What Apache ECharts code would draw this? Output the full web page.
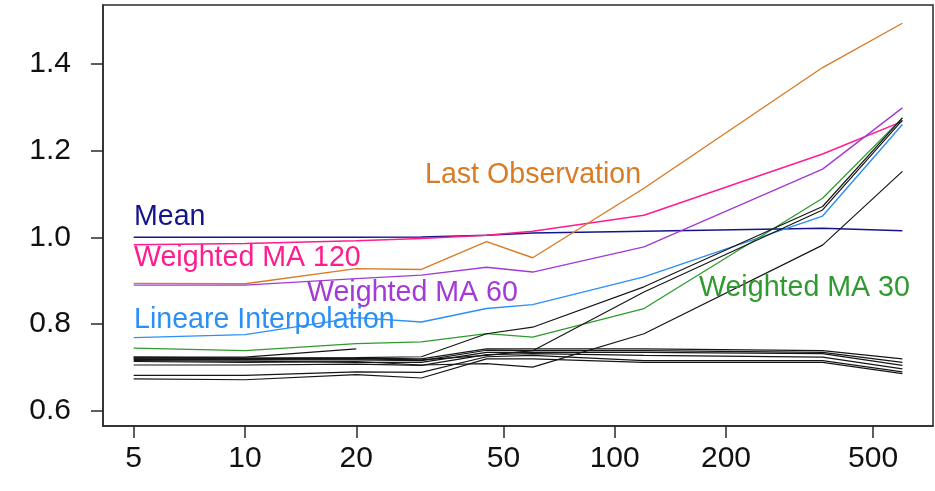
<!DOCTYPE html>
<html>
<head>
<meta charset="utf-8">
<script src="https://cdn.jsdelivr.net/npm/echarts@6/dist/echarts.min.js"></script>
<style>
  html, body { margin: 0; padding: 0; background: #fff; }
  #chart { width: 935px; height: 491px; }
</style>
</head>
<body>
<div id="chart"></div>
<script>
// horizon (days) on a log axis
const horizons = [5, 10, 20, 30, 45, 60, 120, 365, 600];
const xTicks = [5, 10, 20, 50, 100, 200, 500];
const yTicks = [0.6, 0.8, 1.0, 1.2, 1.4];

// named methods
const mean      = [1.000, 1.000, 1.000, 1.001, 1.005, 1.010, 1.014, 1.021, 1.015];
const wma120    = [0.983, 0.986, 0.992, 0.997, 1.005, 1.014, 1.051, 1.192, 1.267];
const lastObs   = [0.894, 0.893, 0.928, 0.926, 0.990, 0.953, 1.113, 1.391, 1.493];
const wma60     = [0.890, 0.890, 0.905, 0.913, 0.931, 0.920, 0.978, 1.157, 1.298];
const linInterp = [0.769, 0.776, 0.815, 0.805, 0.836, 0.845, 0.909, 1.049, 1.260];
const wma30     = [0.745, 0.739, 0.755, 0.759, 0.778, 0.770, 0.836, 1.090, 1.275];

// unnamed (black) methods
const blackA = [0.724, 0.722, 0.723, 0.725, 0.778, 0.793, 0.886, 1.071, 1.275];
const blackB = [0.720, 0.719, 0.720, 0.718, 0.728, 0.739, 0.874, 1.063, 1.270];
const blackC = [0.714, 0.712, 0.714, 0.706, 0.709, 0.701, 0.778, 0.982, 1.152];
const flat1  = [0.722, 0.721, 0.722, 0.720, 0.743, 0.743, 0.743, 0.739, 0.720];
const flat2  = [0.719, 0.718, 0.718, 0.716, 0.740, 0.739, 0.739, 0.735, 0.712];
const flat3  = [0.716, 0.715, 0.712, 0.712, 0.735, 0.735, 0.735, 0.732, 0.705];
const flat4  = [0.706, 0.706, 0.708, 0.705, 0.730, 0.732, 0.728, 0.724, 0.697];
const flat5  = [0.682, 0.682, 0.690, 0.689, 0.725, 0.728, 0.716, 0.716, 0.690];
const flat6  = [0.674, 0.672, 0.684, 0.676, 0.720, 0.720, 0.712, 0.712, 0.686];
const shortLine = [0.724, 0.724, 0.743];

const FONT = '"Liberation Sans", Arial, Helvetica, sans-serif';

function pairs(vals) {
    return vals.map((v, i) => [horizons[i], v]);
}

function line(name, vals, color, width) {
    return {
        name: name,
        type: 'line',
        data: pairs(vals),
        showSymbol: false,
        silent: true,
        animation: false,
        lineStyle: { color: color, width: width },
        itemStyle: { color: color }
    };
}

// annotations next to the curves (pixel positions of the text)
function label(text, x, y, color) {
    return {
        type: 'text',
        x: x,
        y: y,
        z: 100,
        style: {
            text: text,
            fill: color,
            font: '28.6px ' + FONT,
            textVerticalAlign: 'middle'
        }
    };
}

const chart = echarts.init(document.getElementById('chart'));

const blackCol = '#161616';

chart.setOption({
    animation: false,
    grid: {
        left: 103, right: 2, top: 5, bottom: 65,
        show: true,
        borderColor: '#2a2a2a',
        borderWidth: 1.5,
        backgroundColor: 'transparent'
    },
    xAxis: {
        type: 'log',
        logBase: 10,
        min: 4.13,
        max: 726,
        axisLine: { show: true, onZero: false, lineStyle: { color: '#2a2a2a', width: 1.5 } },
        axisTick: { show: true, length: 12, customValues: xTicks, lineStyle: { color: '#2a2a2a', width: 1.5 } },
        axisLabel: {
            customValues: xTicks,
            fontSize: 30, fontFamily: FONT, color: '#111', margin: 18,
            formatter: v => String(Math.round(v))
        },
        splitLine: { show: false },
        minorTick: { show: false }
    },
    yAxis: {
        type: 'value',
        min: 0.5655,
        max: 1.535,
        axisLine: { show: true, lineStyle: { color: '#2a2a2a', width: 1.5 } },
        axisTick: { show: true, length: 12, customValues: yTicks, lineStyle: { color: '#2a2a2a', width: 1.5 } },
        axisLabel: {
            customValues: yTicks,
            fontSize: 30, fontFamily: FONT, color: '#111', margin: 32,
            formatter: v => v.toFixed(1)
        },
        splitLine: { show: false }
    },
    series: [
        line('Mean', mean, '#15158a', 1.5),
        line('Weighted MA 120', wma120, '#ff1c8e', 1.5),
        line('Last Observation', lastObs, '#d97b25', 1.4),
        line('Weighted MA 60', wma60, '#a23ad6', 1.4),
        line('Lineare Interpolation', linInterp, '#2b8ff5', 1.4),
        line('Weighted MA 30', wma30, '#2f9a2f', 1.3),
        line('flat1', flat1, blackCol, 1.2),
        line('flat2', flat2, blackCol, 1.2),
        line('flat3', flat3, blackCol, 1.2),
        line('flat4', flat4, blackCol, 1.2),
        line('flat5', flat5, blackCol, 1.2),
        line('flat6', flat6, blackCol, 1.2),
        line('short', shortLine, blackCol, 1.2),
        line('blackA', blackA, blackCol, 1.2),
        line('blackB', blackB, blackCol, 1.2),
        line('blackC', blackC, blackCol, 1.2)
    ],
    graphic: [
        label('Mean', 134, 217, '#15158a'),
        label('Weighted MA 120', 134, 258.5, '#ff1c8e'),
        label('Weighted MA 60', 307, 293.5, '#a23ad6'),
        label('Lineare Interpolation', 134, 320, '#2b8ff5'),
        label('Last Observation', 425, 175, '#d97b25'),
        label('Weighted MA 30', 699, 288, '#2f9a2f')
    ]
});
</script>
</body>
</html>
